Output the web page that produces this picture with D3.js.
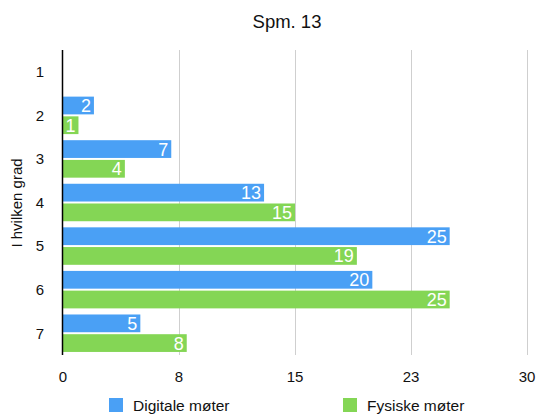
<!DOCTYPE html>
<html>
<head>
<meta charset="utf-8">
<script src="https://cdn.jsdelivr.net/npm/d3@7"></script>
<style>
  html, body { margin: 0; padding: 0; background: #fff; }
  svg { display: block; font-family: "Liberation Sans", Arial, Helvetica, sans-serif; }
</style>
</head>
<body>
<div id="chart"></div>
<script>
// Answers per grade, two meeting types
const categories = ["1", "2", "3", "4", "5", "6", "7"];
const digitale = [0, 2, 7, 13, 25, 20, 5];
const fysiske = [0, 1, 4, 15, 19, 25, 8];
const seriesNames = ["Digitale møter", "Fysiske møter"];
const seriesColors = ["#4aa0f5", "#84d655"];
const tickValues = [0, 7.5, 15, 22.5, 30];
const tickLabels = ["0", "8", "15", "23", "30"];

const W = 539, H = 414;
const margin = { top: 50, right: 12, bottom: 59, left: 63 };

const svg = d3.select("#chart").append("svg")
  .attr("width", W).attr("height", H);

const x = d3.scaleLinear().domain([0, 30]).range([margin.left, 527]);
const y = d3.scaleBand().domain(categories).range([margin.top, H - margin.bottom])
  .paddingInner(0.14).paddingOuter(0.07);
const ySub = d3.scaleBand().domain([0, 1]).range([0, y.bandwidth()]).paddingInner(0.1);

// Title
svg.append("text").attr("x", 287).attr("y", 28)
  .attr("text-anchor", "middle").attr("font-size", 18.5).attr("fill", "#111")
  .text("Spm. 13");

// Vertical grid lines
svg.append("g").selectAll("line").data(tickValues.slice(1)).join("line")
  .attr("x1", d => Math.round(x(d)) + 0.5).attr("x2", d => Math.round(x(d)) + 0.5)
  .attr("y1", margin.top).attr("y2", H - margin.bottom)
  .attr("stroke", "#cfcfcf").attr("stroke-width", 1);

// Bars
const data = categories.map((c, i) => ({ c, vals: [digitale[i], fysiske[i]] }));
const groups = svg.append("g").selectAll("g").data(data).join("g")
  .attr("transform", d => `translate(0,${y(d.c)})`);

groups.selectAll("rect").data(d => d.vals.map((v, k) => ({ v, k }))).join("rect")
  .filter(d => d.v > 0)
  .attr("x", x(0)).attr("y", d => ySub(d.k))
  .attr("width", d => x(d.v) - x(0)).attr("height", ySub.bandwidth())
  .attr("fill", d => seriesColors[d.k]);

groups.selectAll("text").data(d => d.vals.map((v, k) => ({ v, k }))).join("text")
  .filter(d => d.v > 0)
  .attr("x", d => x(d.v) - 3).attr("y", d => ySub(d.k) + ySub.bandwidth() / 2)
  .attr("dy", "0.36em").attr("text-anchor", "end")
  .attr("font-size", 18).attr("fill", "#fff")
  .text(d => d.v);

// Left axis line
svg.append("line").attr("x1", x(0) - 0.5).attr("x2", x(0) - 0.5)
  .attr("y1", margin.top).attr("y2", H - margin.bottom)
  .attr("stroke", "#000").attr("stroke-width", 1.5);

// Category labels
svg.append("g").selectAll("text").data(categories).join("text")
  .attr("x", 40).attr("y", d => y(d) + y.bandwidth() / 2)
  .attr("dy", "0.36em").attr("text-anchor", "middle")
  .attr("font-size", 15).attr("fill", "#111").text(d => d);

// X tick labels
svg.append("g").selectAll("text").data(tickValues).join("text")
  .attr("x", d => x(d)).attr("y", 382)
  .attr("text-anchor", "middle").attr("font-size", 15).attr("fill", "#111")
  .text((d, i) => tickLabels[i]);

// Y axis title
svg.append("text").attr("transform", "translate(22,203) rotate(-90)")
  .attr("text-anchor", "middle").attr("font-size", 15).attr("fill", "#111")
  .text("I hvilken grad");

// Legend
const legendX = [109, 343];
const legend = svg.append("g").selectAll("g").data(seriesNames).join("g")
  .attr("transform", (d, i) => `translate(${legendX[i]},398)`);
legend.append("rect").attr("width", 14).attr("height", 14)
  .attr("fill", (d, i) => seriesColors[i]);
legend.append("text").attr("x", 24).attr("y", 7).attr("dy", "0.36em")
  .attr("font-size", 15.5).attr("fill", "#111").text(d => d);
</script>
</body>
</html>
